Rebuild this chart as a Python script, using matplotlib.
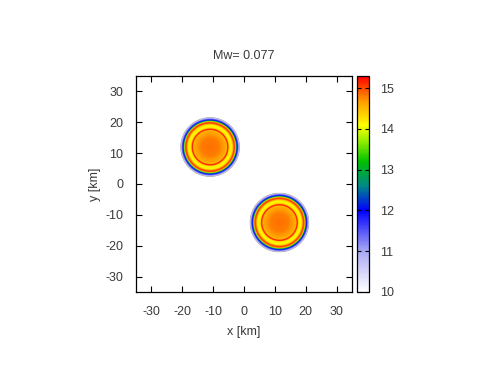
import numpy as np
import matplotlib
matplotlib.use("Agg")
import matplotlib.pyplot as plt
from matplotlib.colors import LinearSegmentedColormap

# --- data ---
title = "Mw= 0.077"
centers_x = [-11.0, 11.5]
centers_y = [12.0, -12.5]
# radial profile of the patch value (km -> value)
profile_r = [0.0, 3.0, 5.0, 5.45, 5.65, 5.9, 6.1, 6.4, 7.0, 7.4, 7.7, 8.1, 8.3, 8.5, 8.7, 9.0, 9.3, 9.6]
profile_v = [14.85, 14.8, 14.6, 14.5, 15.2, 15.2, 14.35, 14.2, 14.1, 14.5, 15.05, 15.0, 14.0, 13.0, 12.1, 11.6, 10.9, 10.0]
xticks = [-30, -20, -10, 0, 10, 20, 30]
yticks = [-30, -20, -10, 0, 10, 20, 30]
cticks = [10, 11, 12, 13, 14, 15]
vmin, vmax = 10.0, 15.3

cmap_vals = [10.0, 11.0, 12.0, 12.6, 13.2, 13.7, 14.1, 14.7, 15.3]
cmap_cols = ["#ffffff", "#a8a8f4", "#0000ff", "#008888", "#00c000", "#90ee00",
             "#ffff00", "#ff9900", "#ff0000"]

cmap = LinearSegmentedColormap.from_list(
    "pal", [((v - vmin) / (vmax - vmin), c) for v, c in zip(cmap_vals, cmap_cols)])

x = np.linspace(-35, 35, 701)
y = np.linspace(-35, 35, 701)
X, Y = np.meshgrid(x, y)
Z = np.full(X.shape, np.nan)
for cx, cy in zip(centers_x, centers_y):
    R = np.hypot(X - cx, Y - cy)
    v = np.interp(R, profile_r, profile_v, right=np.nan)
    m = ~np.isnan(v)
    Z[m] = v[m]
Z = np.ma.masked_where(np.isnan(Z) | (Z <= 10.05), Z)

plt.rcParams['font.family'] = ['Liberation Sans', 'DejaVu Sans']
plt.rcParams['axes.unicode_minus'] = False
tc = '#3a3a3a'
fs = 9
fig = plt.figure(figsize=(4.89, 3.67), dpi=100)
ax = fig.add_axes([136/489, 1 - 292/367, 216/489, 216/367])
cax = fig.add_axes([357/489, 1 - 292/367, 12/489, 216/367])

im = ax.imshow(Z, extent=[-35, 35, -35, 35], origin='lower', cmap=cmap,
               vmin=vmin, vmax=vmax, interpolation='antialiased', aspect='auto')
ax.set_xlim(-35, 35)
ax.set_ylim(-35, 35)
ax.set_xticks(xticks)
ax.set_yticks(yticks)
ax.tick_params(axis='x', pad=10)
ax.tick_params(axis='y', pad=9)
ax.tick_params(direction='in', top=True, right=True, length=4, width=0.8,
               labelsize=fs, colors='black', labelcolor=tc)
for s in ax.spines.values():
    s.set_linewidth(0.9)
ax.set_xlabel("x [km]", fontsize=fs, color=tc, labelpad=6)
ax.set_ylabel("y [km]", fontsize=fs, color=tc, labelpad=3)
ax.set_title(title, fontsize=fs, color=tc, pad=12)

cb = fig.colorbar(im, cax=cax)
cb.set_ticks(cticks)
cax.tick_params(direction='in', left=True, right=True, length=3, width=0.8,
                labelsize=fs, labelcolor=tc, pad=8)
cb.outline.set_linewidth(0.9)

fig.savefig("out.png", dpi=100)
